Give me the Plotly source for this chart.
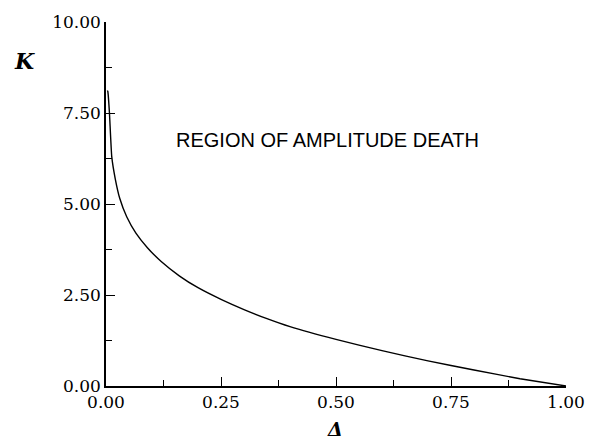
import plotly.graph_objects as go

delta = [0.003, 0.004, 0.0075, 0.0125, 0.02, 0.03, 0.045, 0.065, 0.09, 0.12, 0.16, 0.2,
         0.25, 0.3, 0.35, 0.4, 0.5, 0.6, 0.7, 0.8, 0.9, 1.0]
K = [8.12, 8.09, 7.5, 6.3, 5.7, 5.15, 4.65, 4.2, 3.8, 3.42, 3.02, 2.7,
     2.38, 2.1, 1.85, 1.63, 1.28, 0.97, 0.69, 0.44, 0.2, 0.0]

x_ticks = [0.0, 0.25, 0.5, 0.75, 1.0]
x_ticklabels = ["0.00", "0.25", "0.50", "0.75", "1.00"]
x_minor = [0.125, 0.375, 0.625, 0.875]
y_ticks = [0.0, 2.5, 5.0, 7.5, 10.0]
y_ticklabels = ["0.00", "2.50", "5.00", "7.50", "10.00"]
y_minor = [1.25, 3.75, 6.25, 8.75]

fig = go.Figure()
fig.add_trace(go.Scatter(x=delta, y=K, mode="lines",
                         line=dict(color="black", width=1.4, shape="spline", smoothing=0.4),
                         showlegend=False, hoverinfo="skip"))

tickfont = dict(family="DejaVu Serif", size=17, color="black")
fig.update_layout(
    width=597, height=445,
    margin=dict(l=106, r=29, t=16, b=59),
    paper_bgcolor="white", plot_bgcolor="white",
    xaxis=dict(range=[0, 1], tickmode="array", tickvals=x_ticks, ticktext=x_ticklabels,
               ticks="inside", ticklen=9, tickwidth=1.2, tickcolor="black",
               showline=True, linecolor="black", linewidth=1.5,
               showgrid=False, zeroline=False, tickfont=tickfont,
               minor=dict(tickmode="array", tickvals=x_minor, ticks="inside",
                          ticklen=6, tickwidth=1.2, tickcolor="black", showgrid=False)),
    yaxis=dict(range=[0, 10], tickmode="array", tickvals=y_ticks, ticktext=y_ticklabels,
               ticks="inside", ticklen=9, tickwidth=1.2, tickcolor="black",
               showline=True, linecolor="black", linewidth=1.5,
               showgrid=False, zeroline=False, tickfont=tickfont,
               minor=dict(tickmode="array", tickvals=y_minor, ticks="inside",
                          ticklen=6, tickwidth=1.2, tickcolor="black", showgrid=False)),
    annotations=[
        dict(text="<b><i>K</i></b>", xref="paper", yref="paper", x=-0.177, y=0.892,
             xanchor="center", yanchor="middle", showarrow=False,
             font=dict(family="DejaVu Serif", size=22, color="black")),
        dict(text="<b><i>Δ</i></b>", xref="paper", yref="paper", x=0.497, y=-0.118,
             xanchor="center", yanchor="middle", showarrow=False,
             font=dict(family="DejaVu Serif", size=19, color="black")),
        dict(text="REGION OF AMPLITUDE DEATH", xref="x", yref="y", x=0.482, y=6.75,
             xanchor="center", yanchor="middle", showarrow=False,
             font=dict(family="Liberation Sans", size=20, color="black")),
    ],
)

fig.write_html("out.html")
